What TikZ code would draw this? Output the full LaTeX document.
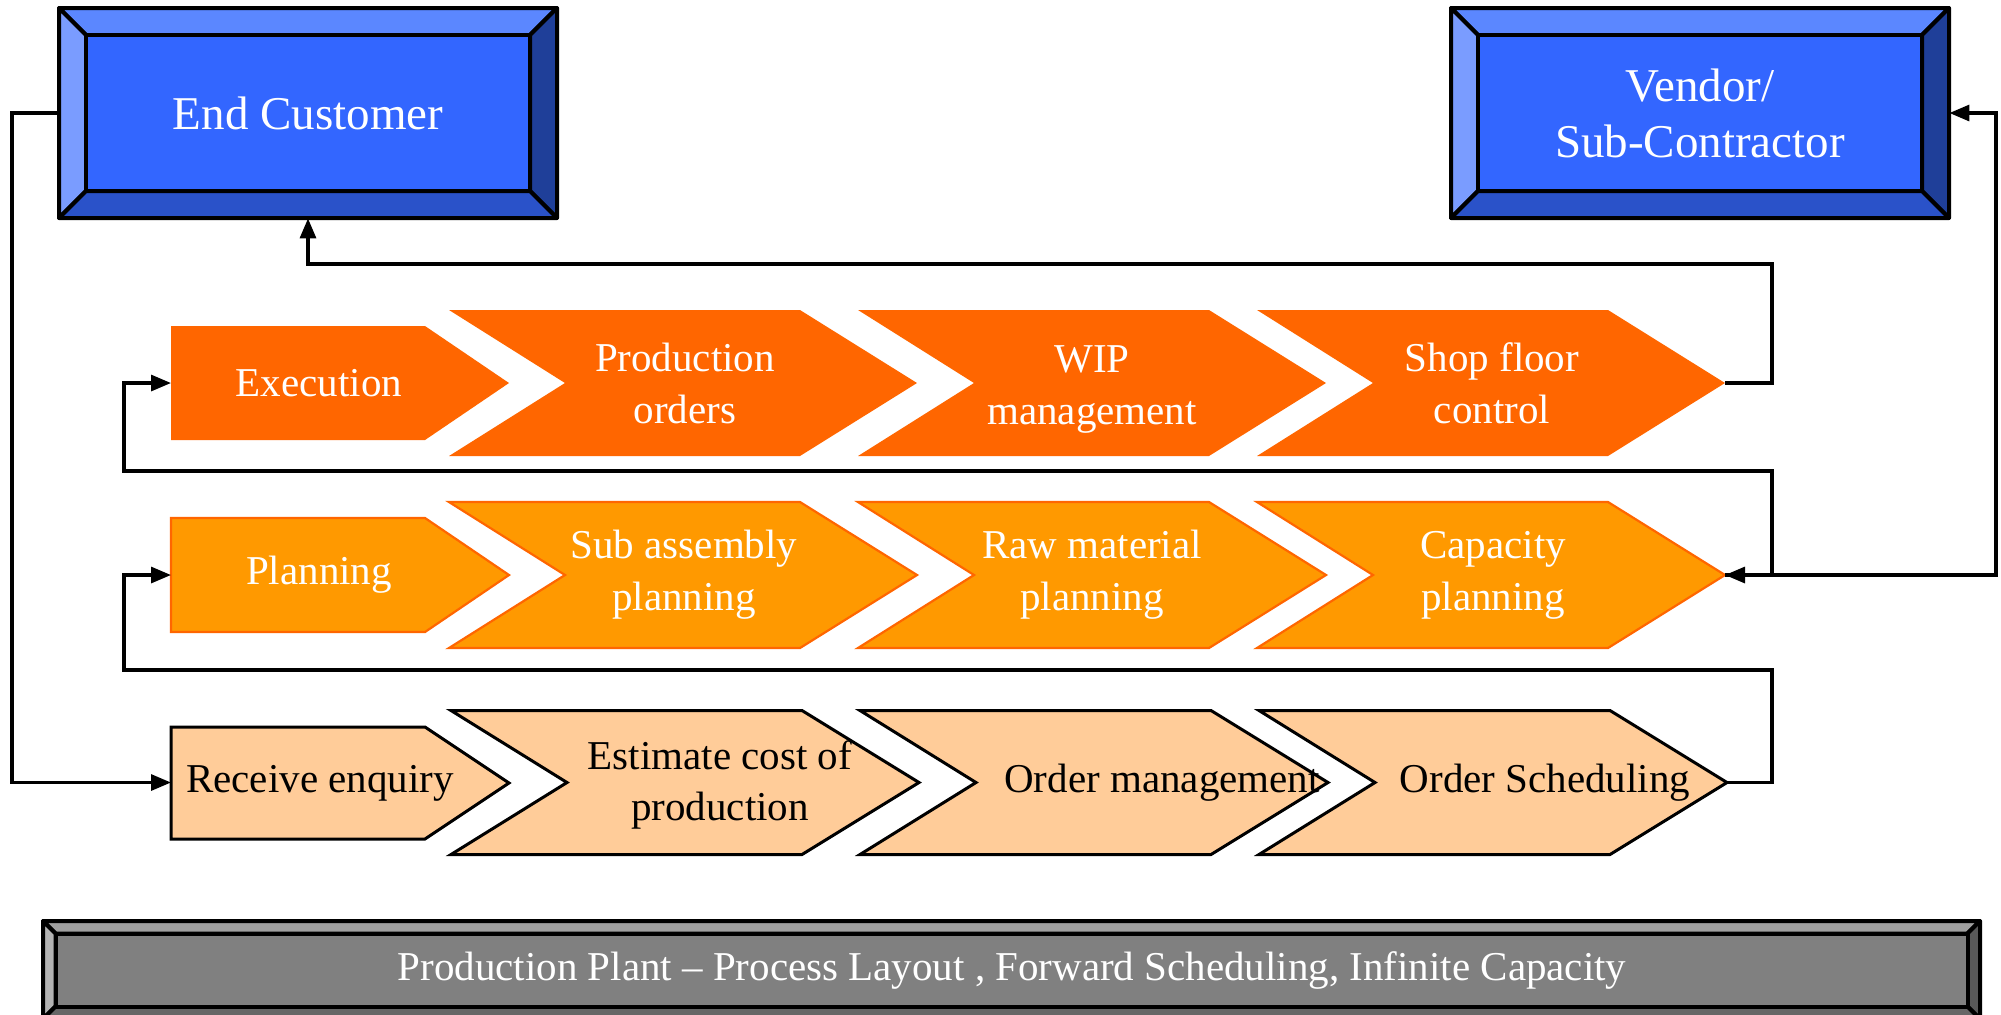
\documentclass[tikz,border=0pt]{standalone}
\usepackage{fontspec}
\setmainfont{Liberation Serif}
\usetikzlibrary{arrows.meta}
\definecolor{exfill}{HTML}{FF6600}
\definecolor{plfill}{HTML}{FF9900}
\definecolor{rqfill}{HTML}{FFCC99}
\definecolor{bcen}{HTML}{3366FF}
\definecolor{btop}{HTML}{5B87FF}
\definecolor{blef}{HTML}{7A9CFF}
\definecolor{brig}{HTML}{1F3F99}
\definecolor{bbot}{HTML}{2A52C9}
\definecolor{gcen}{HTML}{808080}
\definecolor{gtop}{HTML}{A0A0A0}
\definecolor{glef}{HTML}{B3B3B3}
\definecolor{grig}{HTML}{595959}
\definecolor{gbot}{HTML}{666666}
\tikzset{bevline/.style={draw=black,line width=2pt,line join=round}}
\newcommand\bevbox[9]{%
  % #1 x1 #2 y1 #3 x2 #4 y2 #5 bevel #6 top #7 left #8 right #9 bottom
  \path[fill=#6,bevline] (#1,#2) -- (#3,#2) -- (#3-#5,#2+#5) -- (#1+#5,#2+#5) -- cycle;
  \path[fill=#7,bevline] (#1,#2) -- (#1+#5,#2+#5) -- (#1+#5,#4-#5) -- (#1,#4) -- cycle;
  \path[fill=#8,bevline] (#3,#2) -- (#3-#5,#2+#5) -- (#3-#5,#4-#5) -- (#3,#4) -- cycle;
  \path[fill=#9,bevline] (#1,#4) -- (#1+#5,#4-#5) -- (#3-#5,#4-#5) -- (#3,#4) -- cycle;
}
\newcommand\pentshape[3]{% #1 center y, #2 half height, #3 style
  \path[#3] (171,#1-#2) -- (425,#1-#2) -- (509,#1) -- (425,#1+#2) -- (171,#1+#2) -- cycle;}
\newcommand\chevshape[4]{% #1 left x, #2 center y, #3 half height, #4 style
  \path[#4] (#1,#2-#3) -- (#1+351,#2-#3) -- (#1+468,#2) -- (#1+351,#2+#3) -- (#1,#2+#3) -- (#1+116,#2) -- cycle;}
\tikzset{
  rowA/.style={fill=exfill},
  rowB/.style={fill=plfill,draw=exfill,line width=1.1pt},
  rowC/.style={fill=rqfill,draw=black,line width=1.5pt,line join=miter},
  wtxt/.style={text=white,align=center,inner sep=0pt,font=\fontsize{20.5}{26}\selectfont},
  btxt/.style={text=black,align=center,inner sep=0pt,font=\fontsize{20.5}{25.5}\selectfont},
  boxtxt/.style={text=white,align=center,inner sep=0pt,font=\fontsize{23.5}{28}\selectfont,minimum width=249pt,minimum height=105pt},
  conn/.style={draw=black,line width=1.6pt,-{Triangle[length=10pt,width=8pt]}},
  conn2/.style={draw=black,line width=1.6pt,{Triangle[length=10pt,width=8pt]}-{Triangle[length=10pt,width=8pt]}}
}
\begin{document}
\begin{tikzpicture}[x=0.5pt,y=-0.5pt]
\useasboundingbox (0,0) rectangle (2001,1014);
\fill[white] (0,0) rectangle (2001,1014);

% End customer box
\bevbox{59}{8}{557}{218}{27}{btop}{blef}{brig}{bbot}
\path[fill=bcen,bevline] (86,35) rectangle (530,191);
\node[boxtxt] (ec) at (308,113) {End Customer};

% Vendor box
\bevbox{1451}{8}{1949}{218}{27}{btop}{blef}{brig}{bbot}
\path[fill=bcen,bevline] (1478,35) rectangle (1922,191);
\node[boxtxt] (vd) at (1700,113) {Vendor/\\Sub-Contractor};

% Bottom bar
\bevbox{43}{921}{1980}{1019}{12.5}{gtop}{glef}{grig}{gbot}
\path[fill=gcen,bevline] (55.5,933.5) rectangle (1967.5,1006.5);
\node[text=white,inner sep=0pt,font=\fontsize{20.5}{25}\selectfont] (bar) at (1012,970) {Production Plant -- Process Layout , Forward Scheduling, Infinite Capacity};

% Row 1
\pentshape{383}{57}{rowA}
\chevshape{449}{383}{73}{rowA}
\chevshape{858}{383}{73}{rowA}
\chevshape{1257}{383}{73}{rowA}
\node[wtxt] (exec) at (319,383) {Execution};
\node[wtxt] (po) at (685,383) {Production\\orders};
\node[wtxt] (wip) at (1092,389) {WIP\\management};
\node[wtxt] (sfc) at (1492,383) {Shop floor\\control};
\coordinate (exec-in) at (171,383);
\coordinate (sfc-tip) at (1725,383);

% Row 2
\pentshape{575}{57}{rowB}
\chevshape{449}{575}{73}{rowB}
\chevshape{858}{575}{73}{rowB}
\chevshape{1257}{575}{73}{rowB}
\node[wtxt] (plan) at (319,575) {Planning};
\node[wtxt] (sap) at (684,575) {Sub assembly\\planning};
\node[wtxt] (rmp) at (1092,575) {Raw material\\planning};
\node[wtxt] (cap) at (1493,575) {Capacity\\planning};
\coordinate (plan-in) at (171,575);
\coordinate (cap-tip) at (1725,575);

% Row 3
\pentshape{783}{56}{rowC}
\chevshape{451}{782.5}{72}{rowC}
\chevshape{860}{782.5}{72}{rowC}
\chevshape{1259}{782.5}{72}{rowC}
\node[btxt] (re) at (320,783) {Receive enquiry};
\node[btxt] (ecp) at (720,785) {Estimate cost of\\production};
\node[btxt] (om) at (1162,783) {Order management};
\node[btxt] (os) at (1545,783) {Order Scheduling};
\coordinate (re-in) at (171,782.5);
\coordinate (os-tip) at (1725,782.5);

% Connectors
\draw[conn] (ec.west) -- (12,113) -- (12,782.5) -- (re-in);
\draw[conn] (sfc-tip) -- (1772,383) -- (1772,264) -- (308,264) -- (ec.south);
\draw[conn] (cap-tip) -- (1772,575) -- (1772,471) -- (124,471) -- (124,383) -- (exec-in);
\draw[conn] (os-tip) -- (1772,782.5) -- (1772,670) -- (124,670) -- (124,575) -- (plan-in);
\draw[conn2] (vd.east) -- (1996,113) -- (1996,575) -- (cap-tip);
\end{tikzpicture}
\end{document}
